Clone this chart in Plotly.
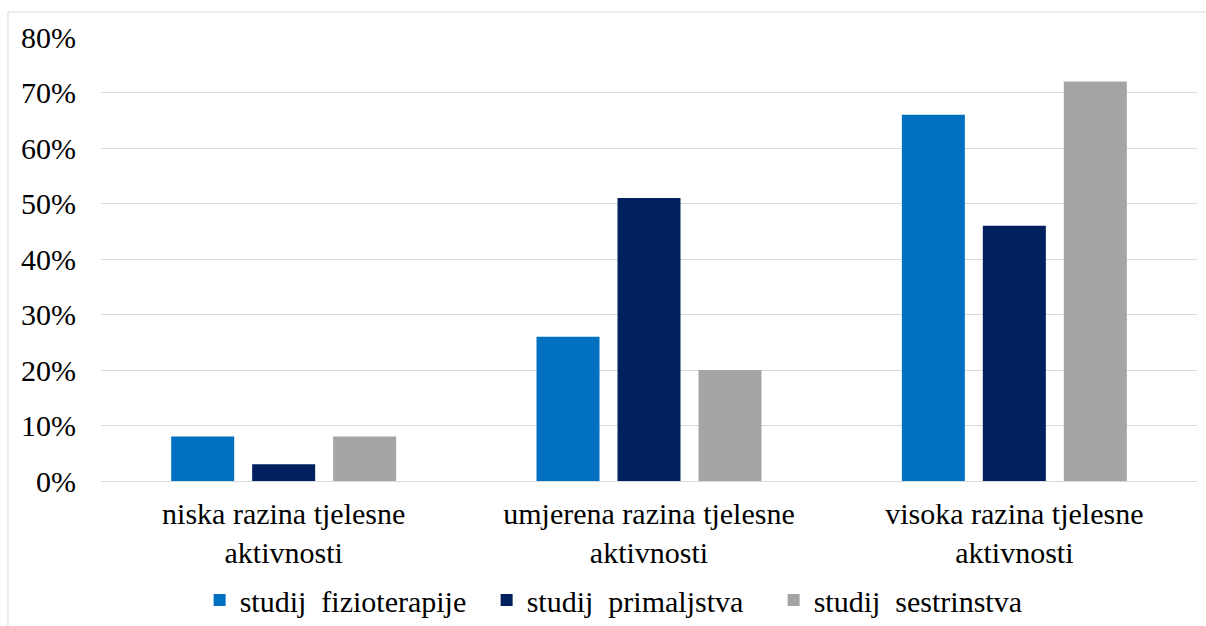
import plotly.graph_objects as go

categories = ["niska razina tjelesne<br>aktivnosti",
              "umjerena razina tjelesne<br>aktivnosti",
              "visoka razina tjelesne<br>aktivnosti"]
series_names = ["studij  fizioterapije", "studij  primaljstva", "studij  sestrinstva"]
fizioterapija = [8, 26, 66]
primaljstvo = [3, 51, 46]
sestrinstvo = [8, 20, 72]
colors = ["#0070C0", "#002060", "#A5A5A5"]
y_ticks = [0, 10, 20, 30, 40, 50, 60, 70, 80]

FONT = "Liberation Serif"

fig = go.Figure()
for name, vals, col in zip(series_names, [fizioterapija, primaljstvo, sestrinstvo], colors):
    fig.add_trace(go.Bar(x=categories, y=vals, name=name, marker_color=col,
                         marker_line_width=0))

# outer chart border
fig.add_shape(type="rect", xref="paper", yref="paper",
              x0=-0.0849, x1=1.02, y0=-0.4, y1=1.0563,
              line=dict(color="#d9d9d9", width=1), fillcolor="rgba(0,0,0,0)", layer="below")

fig.update_layout(
    width=1206, height=626,
    margin=dict(l=101, r=9, t=37, b=145, autoexpand=False),
    paper_bgcolor="white", plot_bgcolor="white",
    barmode="group", bargap=0.335, bargroupgap=0.222,
    font=dict(family=FONT, size=30, color="#000000"),
    showlegend=True,
    legend=dict(orientation="h", x=0.090, xanchor="left", y=-0.268, yanchor="middle",
                font=dict(family=FONT, size=30), entrywidth=242, entrywidthmode="pixels",
                itemclick=False, traceorder="normal"),
    xaxis=dict(showticklabels=True, showline=False, showgrid=False, zeroline=False,
               ticks="", ticklabelstandoff=12, tickfont=dict(family=FONT, size=30),
               fixedrange=True),
    yaxis=dict(range=[0, 80], tickvals=y_ticks, ticktext=[f"{v}%" for v in y_ticks],
               showgrid=True, gridcolor="#d9d9d9", gridwidth=1, zeroline=True,
               zerolinecolor="#d9d9d9", zerolinewidth=1, showline=False,
               ticklabelstandoff=24, tickfont=dict(family=FONT, size=30), fixedrange=True),
)

fig.write_html("out.html", config={"displayModeBar": False},
               post_script="document.body.style.margin='0';")
